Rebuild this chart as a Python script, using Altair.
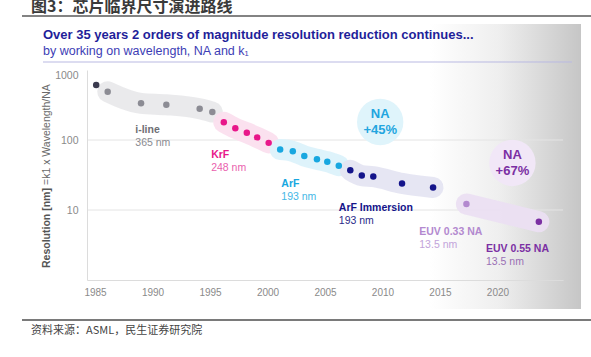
import altair as alt
import pandas as pd

# ---- data ----
years = [1985.1, 1986.1, 1989.0, 1991.2, 1994.1, 1995.2,
         1996.2, 1997.2, 1998.2, 1999.1, 2000.1,
         2001.1, 2002.2, 2003.2, 2004.3, 2005.2, 2006.2,
         2007.2, 2008.2, 2009.2, 2011.7, 2014.4,
         2017.3, 2023.6]
resolution = [611, 490, 334, 319, 280, 251,
              179, 147, 127, 109, 91,
              73, 69, 59, 53, 49, 43,
              37, 31, 30, 24, 21,
              12.2, 6.8]
tech = (["early"] + ["i-line"] * 5 + ["KrF"] * 5 + ["ArF"] * 6
        + ["ArF Immersion"] * 5 + ["EUV 0.33 NA", "EUV 0.55 NA"])
band = (["none"] + ["i-line"] * 5 + ["KrF"] * 5 + ["ArF"] * 6
        + ["ArF Immersion"] * 5 + ["EUV", "EUV"])

tech_names = ["early", "i-line", "KrF", "ArF", "ArF Immersion", "EUV 0.33 NA", "EUV 0.55 NA"]
tech_colors = ["#3b3b4f", "#8c8c94", "#e8178a", "#18a7e0", "#14148a", "#b389cf", "#7b2fa3"]

band_names = ["i-line", "KrF", "ArF", "ArF Immersion", "EUV"]
band_colors = ["#e9e9eb", "#fbdfee", "#dcf2fb", "#e5e5f2", "#ebdff2"]

# annotation labels (name, wavelength, anchor year, anchor value)
lab_name = ["i-line", "KrF", "ArF", "ArF Immersion", "EUV 0.33 NA", "EUV 0.55 NA"]
lab_unit = ["365 nm", "248 nm", "193 nm", "193 nm", "13.5 nm", "13.5 nm"]
lab_year = [1988.5, 1995.1, 2001.2, 2006.2, 2013.2, 2019.0]
lab_val = [139, 61, 23.9, 10.7, 4.85, 2.77]
lab_color = ["#6e6e74", "#e8178a", "#18a7e0", "#14148a", "#b389cf", "#7b2fa3"]
lab_ucolor = ["#8a8a90", "#ea5fae", "#45b7e6", "#2b2b8a", "#c2a3da", "#9a70b5"]

bub_year = [2009.8, 2021.3]
bub_val = [181, 47]
bub_l1 = ["NA", "NA"]
bub_l2 = ["+45%", "+67%"]
bub_fill = ["#dff4fb", "#f1e7f7"]
bub_text = ["#22a5df", "#7b2fa3"]

x_ticks = [1985, 1990, 1995, 2000, 2005, 2010, 2015, 2020]
y_ticks = [10, 100, 1000]
grid_vals = [10, 100]

FONT = "Liberation Sans"
CJK = "Noto Sans CJK SC"

df = pd.DataFrame({"year": years, "res": resolution, "tech": tech, "band": band})
lab = pd.DataFrame({"name": lab_name, "unit": lab_unit, "year": lab_year, "res": lab_val,
                    "c": lab_color, "uc": lab_ucolor})
bub = pd.DataFrame({"year": bub_year, "res": bub_val, "l1": bub_l1, "l2": bub_l2,
                    "fill": bub_fill, "tc": bub_text})

W, H = 476, 210
xs = alt.Scale(domain=[1984.3, 2025.7], nice=False, zero=False)
ys = alt.Scale(type="log", domain=[1, 1000], nice=False)

x_axis = alt.Axis(values=x_ticks, format="d", grid=False, ticks=False, domainColor="#dcdcdc",
                  labelColor="#8a8a8a", labelFont=FONT, labelFontSize=10, labelPadding=7,
                  title=None, zindex=1)
y_axis = alt.Axis(values=y_ticks, format="d", grid=False, ticks=False, domainColor="#dcdcdc",
                  labelColor="#8a8a8a", labelFont=FONT, labelFontSize=10.5, labelPadding=9,
                  labelFlush=True, title=None, zindex=1)

X = alt.X("year:Q", scale=xs, axis=x_axis)
Y = alt.Y("res:Q", scale=ys, axis=y_axis)

one = pd.DataFrame({"a": [0]})

# background gradient panel on the right
grad = alt.Chart(one).mark_rect(
    fill={"gradient": "linear", "x1": 0, "x2": 1, "y1": 0, "y2": 0,
          "stops": [{"offset": 0, "color": "#ffffff"},
                    {"offset": 0.45, "color": "#efefef"},
                    {"offset": 1, "color": "#c6c6c6"}]}
).encode(x=alt.value(343), x2=alt.value(494), y=alt.value(-46), y2=alt.value(239))

grid = alt.Chart(pd.DataFrame({"res": grid_vals})).mark_rule(color="#e4e4e4", strokeWidth=1).encode(
    y=Y, x=alt.value(0), x2=alt.value(W))

layers = [grad, grid]

for bn, bc in zip(band_names, band_colors):
    layers.append(
        alt.Chart(df[df["band"] == bn]).mark_line(
            color=bc, strokeWidth=21, strokeCap="round", strokeJoin="round",
            interpolate="monotone", opacity=0.95
        ).encode(x=X, y=Y)
    )

# bubbles
layers.append(alt.Chart(bub).mark_circle(size=2150, opacity=1).encode(
    x=X, y=Y, color=alt.Color("fill:N", scale=None)))
layers.append(alt.Chart(bub).mark_text(font=FONT, fontSize=13, fontWeight="bold", dy=-8).encode(
    x=X, y=Y, text="l1:N", color=alt.Color("tc:N", scale=None)))
layers.append(alt.Chart(bub).mark_text(font=FONT, fontSize=13, fontWeight="bold", dy=8).encode(
    x=X, y=Y, text="l2:N", color=alt.Color("tc:N", scale=None)))

# points
points = alt.Chart(df).mark_circle(size=42, opacity=1).encode(
    x=X, y=Y,
    color=alt.Color("tech:N", scale=alt.Scale(domain=tech_names, range=tech_colors), legend=None),
)
layers.append(points)

# tech labels
layers.append(alt.Chart(lab).mark_text(font=FONT, fontSize=10.5, fontWeight="bold",
                                       align="left", baseline="middle").encode(
    x=X, y=Y, text="name:N", color=alt.Color("c:N", scale=None)))
layers.append(alt.Chart(lab).mark_text(font=FONT, fontSize=10.5, align="left",
                                       baseline="middle", dy=13).encode(
    x=X, y=Y, text="unit:N", color=alt.Color("uc:N", scale=None)))

# y-axis title (bold + regular parts)
layers.append(alt.Chart(one).mark_text(text="Resolution [nm]", font=FONT, fontSize=10.5,
                                       fontWeight="bold", angle=270, align="left",
                                       baseline="middle", color="#555555").encode(
    x=alt.value(-40), y=alt.value(268 - 70)))
layers.append(alt.Chart(one).mark_text(text="=k1 x Wavelength/NA", font=FONT, fontSize=10.5,
                                       angle=270, align="left", baseline="middle",
                                       color="#6a6a6a").encode(
    x=alt.value(-40), y=alt.value(185 - 70)))

# header / footer decorations
layers.append(alt.Chart(one).mark_text(text="图3：芯片临界尺寸演进路线", font=CJK, fontSize=16,
                                       fontWeight="bold", align="left", baseline="bottom",
                                       color="#3a3a3a").encode(
    x=alt.value(31 - 87), y=alt.value(15 - 70)))
layers.append(alt.Chart(one).mark_rule(color="#5a5a5a", strokeWidth=1.5).encode(
    x=alt.value(22 - 87), x2=alt.value(591 - 87), y=alt.value(16 - 70)))
layers.append(alt.Chart(one).mark_text(
    text="Over 35 years 2 orders of magnitude resolution reduction continues...",
    font=FONT, fontSize=13, fontWeight="bold", align="left", baseline="middle",
    color="#1f1f9a").encode(x=alt.value(43 - 87), y=alt.value(35 - 70)))
layers.append(alt.Chart(one).mark_text(
    text="by working on wavelength, NA and k₁",
    font=FONT, fontSize=12.5, align="left", baseline="middle",
    color="#3d3db5").encode(x=alt.value(43 - 87), y=alt.value(51 - 70)))
layers.append(alt.Chart(one).mark_rule(color="#b9b9e2", strokeWidth=1).encode(
    x=alt.value(43 - 87), x2=alt.value(572 - 87), y=alt.value(62 - 70)))
layers.append(alt.Chart(one).mark_rule(color="#7a7a7a", strokeWidth=2).encode(
    x=alt.value(22 - 87), x2=alt.value(591 - 87), y=alt.value(320 - 70)))
layers.append(alt.Chart(one).mark_text(text="资料来源：ASML，民生证券研究院", font=CJK, fontSize=11,
                                       align="left", baseline="middle", color="#444444").encode(
    x=alt.value(31 - 87), y=alt.value(331 - 70)))

chart = alt.layer(*layers).properties(
    width=W, height=H,
    autosize=alt.AutoSizeParams(type="none"),
    padding={"left": 87, "top": 70, "right": 28, "bottom": 77},
    background="white",
).configure_view(stroke=None)

chart.save("out.html", embed_options={"renderer": "svg", "actions": False})
